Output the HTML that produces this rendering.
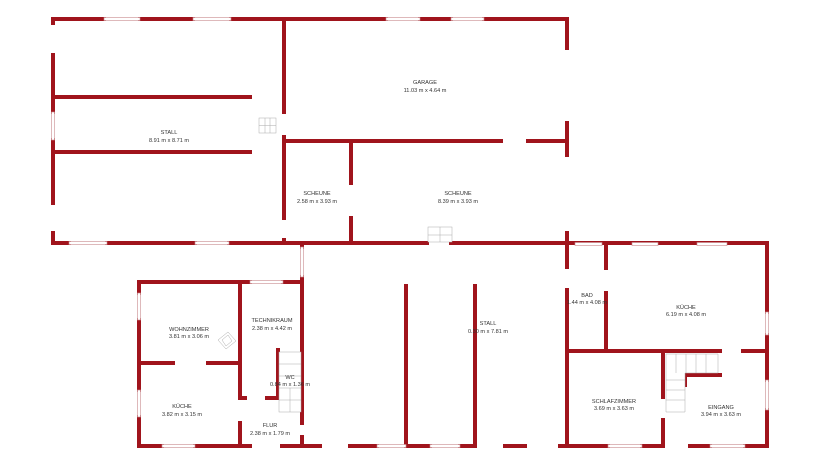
<!DOCTYPE html>
<html><head><meta charset="utf-8"><style>
body{margin:0;background:#fff}
svg{display:block}
text{font-family:"Liberation Sans",sans-serif;font-size:5.6px;fill:#333;text-anchor:middle}
.w{stroke:#a0141c;stroke-width:4;stroke-linecap:square;fill:none}
.win{stroke:#c98a8e;stroke-width:0.6;fill:#fff}
.st{stroke:#aaa;stroke-width:0.5;fill:#fff}
</style></head><body>
<svg width="820" height="465" viewBox="0 0 820 465">
<g class="w">
<!-- upper building -->
<path d="M53 19H104M140 19H193M231 19H386M420 19H451M484 19H567V48"/>
<path d="M567 123V155M567 233V243"/>
<path d="M53 19V23M53 55V112M53 140V203M53 233V243"/>
<path d="M53 243H69M107 243H195M229 243H427M451 243H767"/>
<path d="M53 97H250M53 152H250"/>
<path d="M284 19V112M284 137V218M284 240V243"/>
<path d="M284 141H501M528 141H567"/>
<path d="M351 141V183M351 218V243"/>
<!-- lower building -->
<path d="M302 244V247M302 277V423M302 437V446"/>
<path d="M139 282H250M283 282H302"/>
<path d="M139 282V293M139 320V390M139 417V446"/>
<path d="M139 446H162M195 446H250M282 446H320M350 446H377M406 446H430M460 446H474M505 446H525M560 446H568M568 446H608M642 446H663M690 446H710M745 446H767"/>
<path d="M240 282V398M240 423V446"/>
<path d="M139 363H173M208 363H240"/>
<path d="M278 350V398M240 398H245M267 398H278"/>
<path d="M406 286V446M475 286V446"/>
<path d="M767 244V312M767 335V380M767 410V446"/>
<path d="M567 244V267M567 290V446"/>
<path d="M606 244V268M606 293V351"/>
<path d="M567 351H720M743 351H767"/>
<path d="M663 351V397M663 420V446"/>
<path d="M685 375H720M685 375V385"/>
</g>
<!-- windows -->
<g class="win">
<rect x="104" y="17.5" width="36" height="3"/><rect x="193" y="17.5" width="38" height="3"/>
<rect x="386" y="17.5" width="34" height="3"/><rect x="451" y="17.5" width="33" height="3"/>
<rect x="69" y="241.5" width="38" height="3"/><rect x="195" y="241.5" width="34" height="3"/>
<rect x="51.5" y="112" width="3" height="28"/>
<rect x="250" y="280.5" width="33" height="3"/>
<rect x="300.5" y="247" width="3" height="30"/>
<rect x="137.5" y="293" width="3" height="27"/><rect x="137.5" y="390" width="3" height="27"/>
<rect x="162" y="444.5" width="33" height="3"/>
<rect x="377" y="444.5" width="29" height="3"/><rect x="430" y="444.5" width="30" height="3"/>
<rect x="608" y="444.5" width="34" height="3"/><rect x="710" y="444.5" width="35" height="3"/>
<rect x="575" y="242.5" width="27" height="3"/><rect x="632" y="242.5" width="26" height="3"/><rect x="697" y="242.5" width="30" height="3"/>
<rect x="765.5" y="312" width="3" height="23"/><rect x="765.5" y="380" width="3" height="30"/>
</g>
<!-- stairs -->
<g class="st">
<rect x="259" y="118" width="17" height="15"/><path d="M259 125.5H276M265 118V133M270 118V133"/>
<rect x="428" y="227" width="24" height="15"/><path d="M428 235H452M440 227V242"/>
<rect x="279" y="352" width="22" height="60"/><path d="M279 364H301M279 376H301M279 388H301M279 400H301M290 388V412"/>
<path d="M666 354H718V373H685V412H666Z"/><path d="M676 354V373M686 354V373M696 354V373M706 354V373M666 380H685M666 390H685M666 400H685"/>
<path d="M218 340L228 332L236 341L226 349Z M222 340L228 335L232 341L226 346Z"/>
</g>
<text x="169" y="134">STALL</text><text x="169" y="142">8.91 m x 8.71 m</text>
<text x="425" y="84">GARAGE</text><text x="425" y="92">11.03 m x 4.64 m</text>
<text x="317" y="195">SCHEUNE</text><text x="317" y="203">2.58 m x 3.93 m</text>
<text x="458" y="195">SCHEUNE</text><text x="458" y="203">8.39 m x 3.93 m</text>
<text x="189" y="331">WOHNZIMMER</text><text x="189" y="338">3.81 m x 3.06 m</text>
<text x="272" y="322">TECHNIKRAUM</text><text x="272" y="330">2.38 m x 4.42 m</text>
<text x="290" y="379">WC</text><text x="290" y="386">0.84 m x 1.36 m</text>
<text x="182" y="408">KÜCHE</text><text x="182" y="416">3.82 m x 3.15 m</text>
<text x="270" y="427">FLUR</text><text x="270" y="435">2.38 m x 1.79 m</text>
<text x="488" y="325">STALL</text><text x="488" y="333">0.30 m x 7.81 m</text>
<text x="587" y="297">BAD</text><text x="587" y="304">1.44 m x 4.08 m</text>
<text x="686" y="309">KÜCHE</text><text x="686" y="316">6.19 m x 4.08 m</text>
<text x="614" y="403">SCHLAFZIMMER</text><text x="614" y="410">3.69 m x 3.63 m</text>
<text x="721" y="409">EINGANG</text><text x="721" y="416">3.94 m x 3.63 m</text>
</svg>
</body></html>
